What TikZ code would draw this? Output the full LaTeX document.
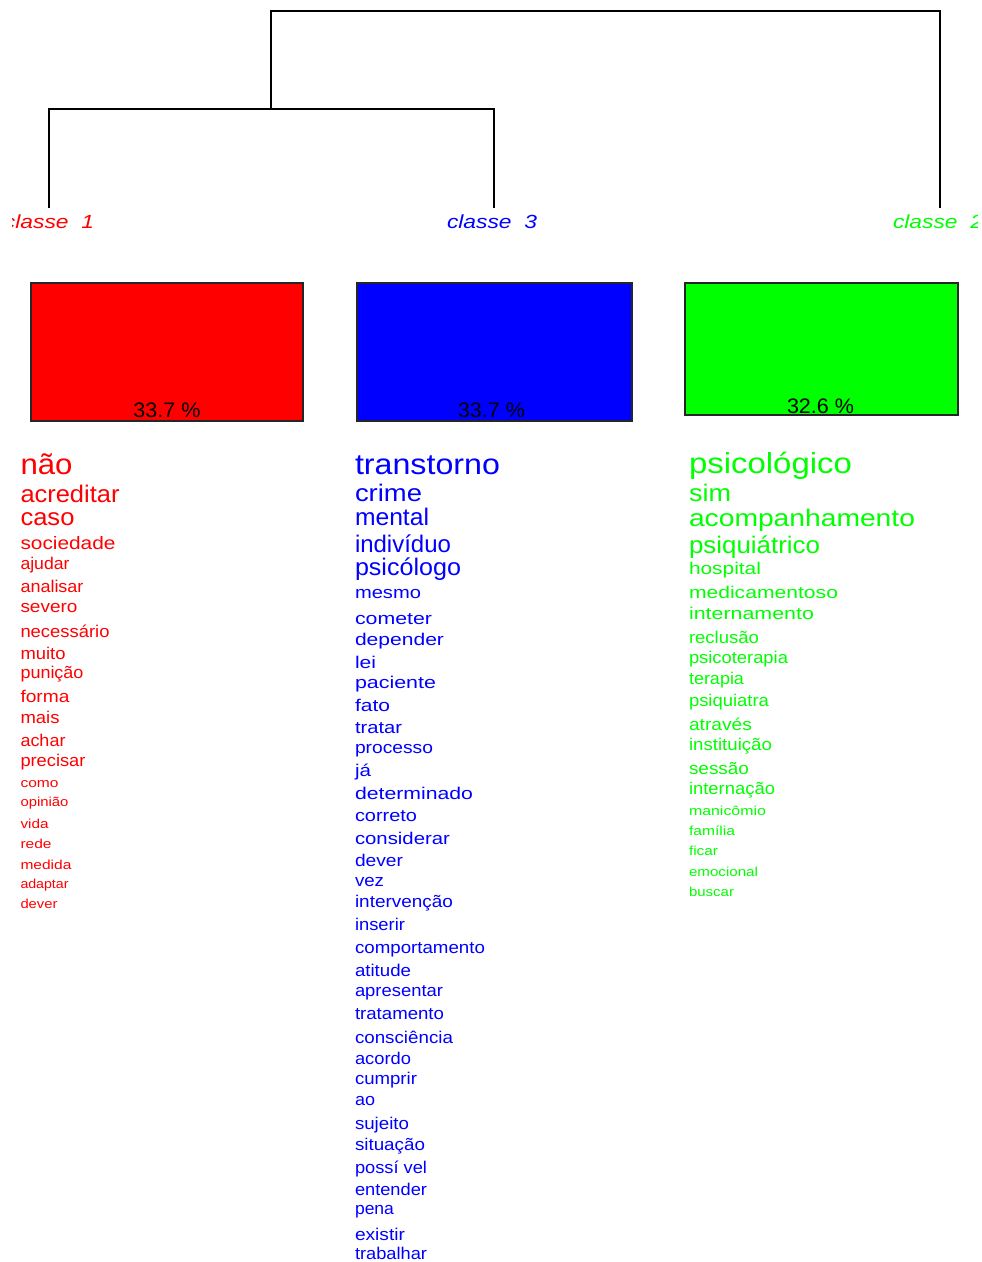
\documentclass[tikz,border=0pt]{standalone}
\usepackage{fontspec}
\setmainfont{Liberation Sans}
\usepackage{graphicx}
\definecolor{cred}{RGB}{255,0,0}
\definecolor{cblue}{RGB}{0,0,255}
\definecolor{cgreen}{RGB}{0,255,0}
\tikzset{
  wordnode/.style={anchor=mid west, inner sep=0pt, outer sep=0pt},
  dendro/.style={draw=black, line width=1.3pt},
  classbox/.style={draw=black!85, line width=1.5pt, inner sep=0pt},
  pctlabel/.style={anchor=base, inner sep=0pt, text=black, font=\fontsize{21}{21}\selectfont},
  classlabel/.style={anchor=mid, inner sep=0pt, font=\fontsize{19}{19}\selectfont\itshape},
}
\newcommand\wordat[6]{\node[wordnode, font=\fontsize{#4}{#4}\selectfont, yshift={-0.2pt*#4}] (#1) at (#2,#3) {\resizebox{#5pt}{\height}{#6}};}
\begin{document}
\begin{tikzpicture}[x=1pt,y=-1pt]
\useasboundingbox (0,0) rectangle (982,1262);
\clip (0,0) rectangle (982,1262);
% dendrogram
\coordinate (l1) at (49,208);
\coordinate (l3) at (494,208);
\coordinate (l2) at (940,208);
\coordinate (a1) at (49,109);
\coordinate (a3) at (494,109);
\coordinate (j) at (271,109);
\coordinate (t1) at (271,11);
\coordinate (t2) at (940,11);
\draw[dendro] (l1) -- (a1) -- (a3) -- (l3);
\draw[dendro] (j) -- (t1) -- (t2) -- (l2);
% class labels
\begin{scope}
\clip (12,200) rectangle (977,245);
\node[classlabel, text=cred] (c1) at (49,226) {\resizebox{90pt}{\height}{classe\ \ 1}};
\node[classlabel, text=cblue] (c3) at (492,226) {\resizebox{90pt}{\height}{classe\ \ 3}};
\node[classlabel, text=cgreen] (c2) at (938,226) {\resizebox{90pt}{\height}{classe\ \ 2}};
\end{scope}
% boxes
\node[classbox, fill=cred, minimum width=272pt, minimum height=138pt] (box1) at (167,352) {};
\node[classbox, fill=cblue, minimum width=275pt, minimum height=138pt] (box3) at (494.5,352) {};
\node[classbox, fill=cgreen, minimum width=273pt, minimum height=132pt] (box2) at (821.5,349) {};
\node[pctlabel] (p1) at (167,417) {\resizebox{67pt}{\height}{33.7 \%}};
\node[pctlabel] (p3) at (491.5,417) {\resizebox{67pt}{\height}{33.7 \%}};
\node[pctlabel] (p2) at (820.5,413) {\resizebox{67pt}{\height}{32.6 \%}};
% class 1 words
\begin{scope}[every node/.append style={text=cred}]
\wordat{r1}{20.5}{466}{29}{52}{não}
\wordat{r2}{20.5}{495}{24}{99}{acreditar}
\wordat{r3}{20.5}{518}{24}{54}{caso}
\wordat{r4}{20.5}{543}{18}{95}{sociedade}
\wordat{r5}{20.5}{563}{17}{49}{ajudar}
\wordat{r6}{20.5}{586}{17}{63}{analisar}
\wordat{r7}{20.5}{606}{17}{57}{severo}
\wordat{r8}{20.5}{631}{17}{89}{necessário}
\wordat{r9}{20.5}{653}{17}{45}{muito}
\wordat{r10}{20.5}{672}{17}{63}{punição}
\wordat{r11}{20.5}{696}{17}{49}{forma}
\wordat{r12}{20.5}{717}{17}{39}{mais}
\wordat{r13}{20.5}{740}{17}{45}{achar}
\wordat{r14}{20.5}{760}{17}{65}{precisar}
\wordat{r15}{20.5}{782}{13}{38}{como}
\wordat{r16}{20.5}{801}{13}{48}{opinião}
\wordat{r17}{20.5}{823}{13}{28}{vida}
\wordat{r18}{20.5}{843}{13}{31}{rede}
\wordat{r19}{20.5}{864}{13}{51}{medida}
\wordat{r20}{20.5}{883}{13}{48}{adaptar}
\wordat{r21}{20.5}{903}{13}{37}{dever}
\end{scope}
% class 3 words
\begin{scope}[every node/.append style={text=cblue}]
\wordat{b1}{355}{466}{29}{145}{transtorno}
\wordat{b2}{355}{494}{24}{67}{crime}
\wordat{b3}{355}{518}{24}{74}{mental}
\wordat{b4}{355}{545}{24}{96}{indivíduo}
\wordat{b5}{355}{568}{24}{106}{psicólogo}
\wordat{b6}{355}{592}{17}{66}{mesmo}
\wordat{b7}{355}{618}{17}{77}{cometer}
\wordat{b8}{355}{639}{17}{89}{depender}
\wordat{b9}{355}{662}{17}{21}{lei}
\wordat{b10}{355}{682}{17}{81}{paciente}
\wordat{b11}{355}{705}{17}{35}{fato}
\wordat{b12}{355}{727}{17}{47}{tratar}
\wordat{b13}{355}{747}{17}{78}{processo}
\wordat{b14}{355}{770}{17}{16}{já}
\wordat{b15}{355}{793}{17}{118}{determinado}
\wordat{b16}{355}{815}{17}{62}{correto}
\wordat{b17}{355}{838}{17}{95}{considerar}
\wordat{b18}{355}{860}{17}{48}{dever}
\wordat{b19}{355}{880}{17}{29}{vez}
\wordat{b20}{355}{901}{17}{98}{intervenção}
\wordat{b21}{355}{924}{17}{50}{inserir}
\wordat{b22}{355}{947}{17}{130}{comportamento}
\wordat{b23}{355}{970}{17}{56}{atitude}
\wordat{b24}{355}{990}{17}{88}{apresentar}
\wordat{b25}{355}{1013}{17}{89}{tratamento}
\wordat{b26}{355}{1037}{17}{98}{consciência}
\wordat{b27}{355}{1058}{17}{56}{acordo}
\wordat{b28}{355}{1078}{17}{62}{cumprir}
\wordat{b29}{355}{1099}{17}{20}{ao}
\wordat{b30}{355}{1123}{17}{54}{sujeito}
\wordat{b31}{355}{1144}{17}{70}{situação}
\wordat{b32}{355}{1167}{17}{72}{possí vel}
\wordat{b33}{355}{1189}{17}{72}{entender}
\wordat{b34}{355}{1208}{17}{39}{pena}
\wordat{b35}{355}{1234}{17}{50}{existir}
\wordat{b36}{355}{1253}{17}{72}{trabalhar}
\end{scope}
% class 2 words
\begin{scope}[every node/.append style={text=cgreen}]
\wordat{g1}{689}{465}{29}{163}{psicológico}
\wordat{g2}{689}{494}{24}{42}{sim}
\wordat{g3}{689}{519}{24}{226}{acompanhamento}
\wordat{g4}{689}{546}{24}{131}{psiquiátrico}
\wordat{g5}{689}{568}{17}{72}{hospital}
\wordat{g6}{689}{592}{17}{149}{medicamentoso}
\wordat{g7}{689}{613}{17}{125}{internamento}
\wordat{g8}{689}{637}{17}{70}{reclusão}
\wordat{g9}{689}{657}{17}{99}{psicoterapia}
\wordat{g10}{689}{678}{17}{55}{terapia}
\wordat{g11}{689}{700}{17}{80}{psiquiatra}
\wordat{g12}{689}{724}{17}{63}{através}
\wordat{g13}{689}{744}{17}{83}{instituição}
\wordat{g14}{689}{768}{17}{60}{sessão}
\wordat{g15}{689}{788}{17}{86}{internação}
\wordat{g16}{689}{810}{13}{77}{manicômio}
\wordat{g17}{689}{830}{13}{46}{família}
\wordat{g18}{689}{850}{13}{29}{ficar}
\wordat{g19}{689}{871}{13}{69}{emocional}
\wordat{g20}{689}{891}{13}{45}{buscar}
\end{scope}
\end{tikzpicture}
\end{document}
